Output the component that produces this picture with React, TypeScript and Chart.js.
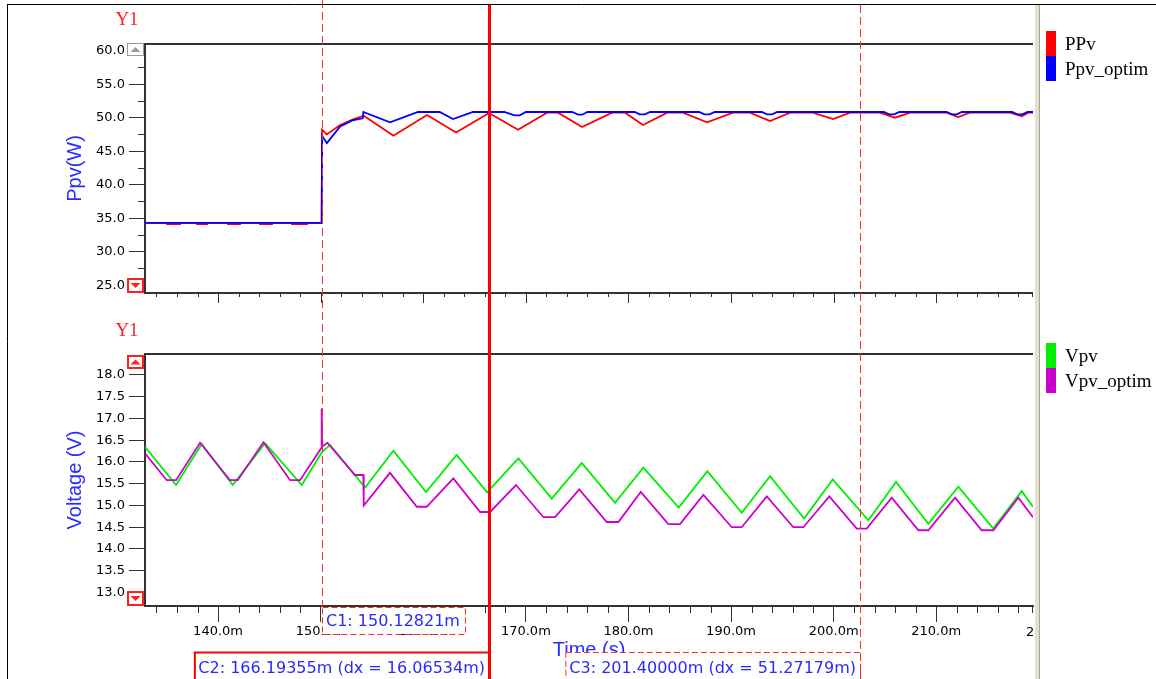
import { useEffect, useRef } from 'react';
import { Chart, registerables } from 'chart.js';
Chart.register(...registerables);

const W = 1156;
const H = 679;

// ---- time axis (ms) ----
const timeMin = 132.88;
const timeMax = 219.43;
const timeStep = 2;
const timeLabelEvery = 10;
const clippedTickTime = 220;

// ---- top panel: PPv / Ppv_optim (W) ----
const powerMin = 23.83;
const powerMax = 61.0;
const powerStep = 2.5;
const powerLabelEvery = 5;

const ppvTime = [132.88, 135.03, 135.03, 136.3, 136.3, 137.95, 137.95, 138.93, 138.93, 140.97, 140.97, 142.14, 142.14, 144.09, 144.09, 145.26, 145.26, 147.21, 147.21, 148.67, 148.67,
  150.1, 150.14, 150.6, 151.9, 153.1, 154.2, 157.09, 160.37, 163.2, 166.41, 169.24, 172.07, 173.14, 175.48, 178.4, 179.67, 181.42, 183.77, 185.32, 187.66, 190.2, 191.85, 193.8, 195.75, 197.99, 199.94, 201.6, 204.52, 205.98, 207.45, 211.05, 212.12, 213.29, 217.19, 218.36, 218.95, 219.43];
const ppvValues = [34.3, 34.3, 34.1, 34.1, 34.3, 34.3, 34.1, 34.1, 34.3, 34.3, 34.1, 34.1, 34.3, 34.3, 34.1, 34.1, 34.3, 34.3, 34.1, 34.1, 34.3,
  34.3, 48.2, 47.5, 48.9, 49.7, 50.3, 47.3, 50.4, 47.8, 50.7, 48.2, 50.75, 50.75, 48.6, 50.75, 50.75, 48.9, 50.75, 50.75, 49.3, 50.75, 50.75, 49.5, 50.75, 50.75, 49.8, 50.75, 50.75, 50.0, 50.75, 50.75, 50.1, 50.75, 50.75, 50.2, 50.75, 50.75];

const ppvOptTime = [132.88, 150.1, 150.14, 150.6, 151.9, 153.1, 154.1, 154.16, 156.76, 159.49, 161.6, 162.9, 164.85,
  167.9, 168.9, 169.4, 170.0, 174.5, 175.1, 175.5, 176.0, 180.6, 181.1, 181.6, 182.1, 186.9, 187.4, 187.9, 188.4,
  193.0, 193.5, 194.0, 194.5, 204.9, 205.4, 205.9, 206.4, 211.0, 211.5, 212.0, 212.5, 217.4, 217.9, 218.4, 218.9, 219.43];
const ppvOptValues = [34.3, 34.3, 47.3, 46.2, 48.7, 49.6, 49.9, 50.85, 49.3, 50.85, 50.85, 49.8, 50.85,
  50.85, 50.35, 50.35, 50.85, 50.85, 50.45, 50.45, 50.85, 50.85, 50.5, 50.5, 50.85, 50.85, 50.5, 50.5, 50.85,
  50.85, 50.5, 50.5, 50.85, 50.85, 50.5, 50.5, 50.85, 50.85, 50.5, 50.5, 50.85, 50.85, 50.5, 50.5, 50.85, 50.85];

// ---- bottom panel: Vpv / Vpv_optim (V) ----
const voltMin = 12.69;
const voltMax = 18.48;
const voltStep = 0.5;

const vpvTime = [132.88, 135.91, 138.41, 141.43, 144.58, 148.16, 150.14, 150.92, 154.33, 157.09, 160.27, 163.26, 166.22, 169.27, 172.53, 175.45, 178.69, 181.45, 184.9, 187.69, 191.04, 193.8, 197.12, 199.91, 203.38, 206.08, 209.23, 212.15, 215.56, 218.33, 219.43];
const vpvValues = [16.35, 15.47, 16.41, 15.47, 16.43, 15.47, 16.23, 16.39, 15.41, 16.26, 15.31, 16.16, 15.3, 16.08, 15.16, 15.98, 15.06, 15.87, 14.95, 15.79, 14.83, 15.67, 14.7, 15.6, 14.66, 15.54, 14.58, 15.43, 14.47, 15.33, 14.97];

const vpvOptTime = [132.88, 135.0, 135.91, 138.25, 141.17, 141.92, 144.42, 147.02, 147.99, 150.04, 150.1, 150.16, 150.65, 153.35, 154.16, 154.2, 156.76, 159.37, 160.34, 162.93, 165.54, 166.51, 169.04, 171.71, 172.85, 175.21, 177.88, 179.02, 181.2, 183.89, 185.03, 187.3, 190.07, 191.04, 193.48, 196.07, 197.05, 199.58, 202.25, 203.22, 205.66, 208.26, 209.23, 211.83, 214.43, 215.56, 218.0, 219.43];
const vpvOptValues = [16.2, 15.58, 15.58, 16.44, 15.58, 15.58, 16.45, 15.58, 15.58, 16.31, 17.23, 16.35, 16.44, 15.7, 15.7, 15.0, 15.75, 14.97, 14.97, 15.62, 14.85, 14.85, 15.47, 14.73, 14.73, 15.37, 14.62, 14.62, 15.31, 14.57, 14.57, 15.24, 14.5, 14.5, 15.21, 14.5, 14.5, 15.21, 14.47, 14.47, 15.18, 14.43, 14.43, 15.18, 14.43, 14.43, 15.18, 14.73];

// ---- cursors ----
const cursorTimes = [150.13, 166.41, 202.57];
const cursorLabels = ['C1: 150.12821m', 'C2: 166.19355m (dx = 16.06534m)', 'C3: 201.40000m (dx = 51.27179m)'];

const seriesLabels = ['PPv', 'Ppv_optim', 'Vpv', 'Vpv_optim'];
const seriesColors = ['#ff0000', '#0000ff', '#00ee00', '#cc00cc'];

const AXIS = '#333333';
const BLUE_TEXT = '#2a2aff';
const TICK_FONT = { family: '"DejaVu Sans", sans-serif', size: 13 };

const isMult = (v: number, m: number) => Math.abs(v / m - Math.round(v / m)) < 1e-6;
const pts = (t: number[], v: number[]) => t.map((x, i) => ({ x, y: v[i] }));

const decor = {
  id: 'decor',
  beforeDraw(chart: any) {
    const c = chart.ctx;
    c.save();
    c.fillStyle = '#ffffff';
    c.fillRect(0, 0, chart.width, chart.height);
    c.restore();
  },
  afterDraw(chart: any) {
    const ctx = chart.ctx as CanvasRenderingContext2D;
    const xs = chart.scales.x;
    const yP = chart.scales.yP;
    const yV = chart.scales.yV;
    const L = chart.chartArea.left;
    const R = chart.chartArea.right;
    const B = chart.chartArea.bottom;
    const line = (x1: number, y1: number, x2: number, y2: number) => {
      ctx.beginPath(); ctx.moveTo(x1, y1); ctx.lineTo(x2, y2); ctx.stroke();
    };
    ctx.save();

    // panel borders
    ctx.strokeStyle = AXIS;
    ctx.lineWidth = 2;
    line(L - 1, yP.top, R, yP.top);
    line(L - 1, yV.top, R, yV.top);
    line(L - 1, yP.bottom, R, yP.bottom);

    // time ticks on top panel and minor ones on bottom panel
    ctx.lineWidth = 1;
    for (const t of xs.ticks) {
      const px = Math.round(xs.getPixelForValue(t.value)) + 0.5;
      const major = isMult(t.value, timeLabelEvery);
      line(px, yP.bottom, px, yP.bottom + (major ? 10 : 4));
      if (!major) line(px, B, px, B + 7);
    }
    line(R - 0.5, yP.bottom, R - 0.5, yP.bottom + 4);
    line(R - 0.5, B, R - 0.5, B + 7);
    // minor power ticks
    for (const t of yP.ticks) {
      if (isMult(t.value, powerLabelEvery)) continue;
      const py = Math.round(yP.getPixelForValue(t.value)) + 0.5;
      line(L - 7, py, L, py);
    }

    // clipped tick label at right edge
    ctx.save();
    ctx.beginPath(); ctx.rect(0, 0, R + 1, H); ctx.clip();
    ctx.font = `${TICK_FONT.size}px ${TICK_FONT.family}`;
    ctx.fillStyle = '#000';
    ctx.textAlign = 'center'; ctx.textBaseline = 'middle';
    ctx.fillText(clippedTickTime.toFixed(1) + 'm', xs.getPixelForValue(clippedTickTime) + 12, B + 27);
    ctx.restore();

    // scroll buttons
    const btn = (x: number, y: number, w: number, h: number, up: boolean, col: string, lw: number) => {
      ctx.fillStyle = '#ffffff';
      ctx.fillRect(x, y, w, h);
      ctx.strokeStyle = col; ctx.lineWidth = lw;
      ctx.strokeRect(x + lw / 2, y + lw / 2, w - lw, h - lw);
      ctx.fillStyle = col;
      const cx = x + w / 2, cy = y + h / 2;
      ctx.beginPath();
      if (up) { ctx.moveTo(cx - 5, cy + 2.5); ctx.lineTo(cx + 5, cy + 2.5); ctx.lineTo(cx, cy - 2.5); }
      else { ctx.moveTo(cx - 5, cy - 2.5); ctx.lineTo(cx + 5, cy - 2.5); ctx.lineTo(cx, cy + 2.5); }
      ctx.closePath(); ctx.fill();
    };
    btn(L - 18, yP.top - 1, 17, 13, true, '#9a9a9a', 1);
    btn(L - 18, yP.bottom - 15, 17, 15, false, '#ff2020', 2);
    btn(L - 18, yV.top + 1, 17, 14, true, '#ff2020', 2);
    btn(L - 18, yV.bottom - 15, 17, 15, false, '#ff2020', 2);

    // Y1 labels
    ctx.fillStyle = '#ff2020';
    ctx.font = '19px "Liberation Serif", serif';
    ctx.textAlign = 'center'; ctx.textBaseline = 'middle';
    ctx.fillText('Y1', L - 18, yP.top - 24);
    ctx.fillText('Y1', L - 18, yV.top - 23);

    // cursors
    const cx = cursorTimes.map((t) => Math.round(xs.getPixelForValue(t)));
    ctx.strokeStyle = '#ff2a2a';
    ctx.lineWidth = 1;
    ctx.setLineDash([8, 4]);
    line(cx[0] + 0.5, 0, cx[0] + 0.5, B + 1);
    line(cx[2] + 0.5, 5, cx[2] + 0.5, H);
    ctx.setLineDash([]);
    ctx.strokeStyle = '#ff0000';
    ctx.lineWidth = 3;
    line(cx[1] + 0.5, 5, cx[1] + 0.5, H);

    // cursor boxes
    ctx.font = '16px "DejaVu Sans", sans-serif';
    ctx.textAlign = 'left'; ctx.textBaseline = 'middle';
    const box = (left: number, top: number, w: number, h: number, dashed: boolean, text: string) => {
      ctx.fillStyle = '#ffffff';
      ctx.fillRect(left, top, w, h);
      ctx.strokeStyle = dashed ? '#ff2a2a' : '#ff0000';
      ctx.lineWidth = dashed ? 1 : 2;
      ctx.setLineDash(dashed ? [6, 3] : []);
      ctx.strokeRect(left + 0.5, top + 0.5, w, h);
      ctx.setLineDash([]);
      ctx.fillStyle = BLUE_TEXT;
      ctx.fillText(text, left + 4, top + h / 2 + 1);
    };
    const w0 = ctx.measureText(cursorLabels[0]).width + 9;
    box(cx[0], B + 1, w0, 27, true, cursorLabels[0]);
    const w1 = ctx.measureText(cursorLabels[1]).width + 8;
    box(cx[1] - w1, B + 46, w1, 32, false, cursorLabels[1]);
    const w2 = ctx.measureText(cursorLabels[2]).width + 8;
    box(cx[2] - w2, B + 46, w2, 32, true, cursorLabels[2]);
    ctx.strokeStyle = '#ff0000'; ctx.lineWidth = 3;
    line(cx[1] + 0.5, B + 40, cx[1] + 0.5, H);

    // splitter
    ctx.fillStyle = '#e4e0d0';
    ctx.fillRect(R + 2, 5, 5, H);
    ctx.fillStyle = '#a8a595';
    ctx.fillRect(R + 6, 5, 1, H);

    // legend
    ctx.font = '19px "Liberation Serif", serif';
    ctx.textAlign = 'left'; ctx.textBaseline = 'middle';
    const groups = [[0, 1, yP.top - 13], [2, 3, yV.top - 11]];
    for (const [a, b, top] of groups) {
      [a, b].forEach((di, k) => {
        const ds = chart.data.datasets[di];
        ctx.fillStyle = ds.borderColor;
        ctx.fillRect(R + 13, top + k * 25, 10, 25);
        ctx.fillStyle = '#000';
        ctx.fillText(ds.label, R + 32, top + k * 25 + 14);
      });
    }

    // outer frame
    ctx.strokeStyle = '#000'; ctx.lineWidth = 1;
    line(7, 4.5, W, 4.5);
    line(7.5, 4, 7.5, H);
    ctx.restore();
  },
};

export default function App() {
  const ref = useRef<HTMLCanvasElement | null>(null);
  useEffect(() => {
    if (!ref.current) return;
    const tickColorFor = (every: number) => (c: any) =>
      c.tick && isMult(c.tick.value, every) ? AXIS : 'rgba(0,0,0,0)';
    const titleFont = { family: '"Liberation Sans", Arial, sans-serif', size: 20 };
    const chart = new Chart(ref.current, {
      type: 'line',
      data: {
        datasets: [
          { label: seriesLabels[0], data: pts(ppvTime, ppvValues), yAxisID: 'yP', borderColor: seriesColors[0], order: 2 },
          { label: seriesLabels[1], data: pts(ppvOptTime, ppvOptValues), yAxisID: 'yP', borderColor: seriesColors[1], order: 1 },
          { label: seriesLabels[2], data: pts(vpvTime, vpvValues), yAxisID: 'yV', borderColor: seriesColors[2], order: 4 },
          { label: seriesLabels[3], data: pts(vpvOptTime, vpvOptValues), yAxisID: 'yV', borderColor: seriesColors[3], order: 3 },
        ].map((d) => ({ ...d, borderWidth: 1.8, pointRadius: 0, tension: 0, fill: false })),
      },
      options: {
        animation: false,
        responsive: false,
        devicePixelRatio: 1,
        layout: { padding: { left: 0, right: 123, top: 44, bottom: 0 } },
        plugins: { legend: { display: false }, tooltip: { enabled: false } },
        events: [],
        scales: {
          x: {
            type: 'linear',
            position: 'bottom',
            min: timeMin,
            max: timeMax,
            afterFit: (s: any) => { s.height = 73; },
            border: { color: AXIS, width: 2 },
            grid: { drawOnChartArea: false, tickLength: 16, tickColor: tickColorFor(timeLabelEvery), tickWidth: 1 },
            ticks: {
              stepSize: timeStep,
              includeBounds: false,
              autoSkip: false,
              maxRotation: 0,
              padding: 2,
              color: '#000',
              font: TICK_FONT,
              callback: (v: any) => (isMult(Number(v), timeLabelEvery) ? Number(v).toFixed(1) + 'm' : ''),
            },
            title: { display: true, text: 'Time (s)', color: BLUE_TEXT, font: titleFont, padding: { top: 0, bottom: 17 } },
          },
          yV: {
            type: 'linear',
            position: 'left',
            stack: 'panels',
            stackWeight: 252,
            min: voltMin,
            max: voltMax,
            afterFit: (s: any) => { s.width = 145; },
            border: { color: AXIS, width: 2 },
            grid: { drawOnChartArea: false, tickLength: 16, tickColor: AXIS, tickWidth: 1 },
            ticks: {
              stepSize: voltStep,
              includeBounds: false,
              autoSkip: false,
              padding: 4,
              color: '#000',
              font: TICK_FONT,
              callback: (v: any) => Number(v).toFixed(1),
            },
            title: { display: true, text: 'Voltage (V)', color: BLUE_TEXT, font: titleFont, padding: { top: 63, bottom: 0 } },
          },
          yGap: {
            type: 'linear',
            position: 'left',
            stack: 'panels',
            stackWeight: 61,
            afterFit: (s: any) => { s.width = 145; },
            border: { display: false },
            grid: { display: false },
            ticks: { display: false },
          },
          yP: {
            type: 'linear',
            position: 'left',
            stack: 'panels',
            stackWeight: 249,
            min: powerMin,
            max: powerMax,
            afterFit: (s: any) => { s.width = 145; },
            border: { color: AXIS, width: 2 },
            grid: { drawOnChartArea: false, tickLength: 16, tickColor: tickColorFor(powerLabelEvery), tickWidth: 1 },
            ticks: {
              stepSize: powerStep,
              includeBounds: false,
              autoSkip: false,
              padding: 4,
              color: '#000',
              font: TICK_FONT,
              callback: (v: any) => (isMult(Number(v), powerLabelEvery) ? Number(v).toFixed(1) : ''),
            },
            title: { display: true, text: 'Ppv(W)', color: BLUE_TEXT, font: titleFont, padding: { top: 63, bottom: 0 } },
          },
        },
      } as any,
      plugins: [decor],
    });
    return () => chart.destroy();
  }, []);
  return (
    <div style={{ position: 'absolute', left: 0, top: 0, width: W, height: H, background: '#fff' }}>
      <canvas ref={ref} width={W} height={H} style={{ display: 'block', width: W, height: H }} />
    </div>
  );
}
